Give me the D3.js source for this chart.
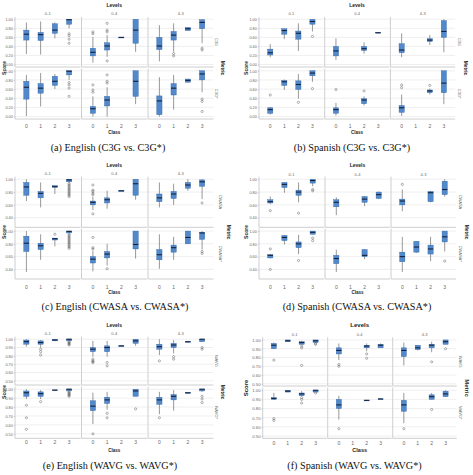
<!DOCTYPE html>
<html><head><meta charset="utf-8">
<script src="https://cdn.jsdelivr.net/npm/d3@7"></script>
<style>body{margin:0;background:#fff}svg{display:block}</style>
</head><body><svg id="c" width="473" height="475"></svg>
<script>
// ---------- data ----------
const levels = ["0-1", "0-4", "4-3"];
const classes = ["0", "1", "2", "3"];
const metricsA = ["C3G", "C3G*"];
const metricsC = ["CWASA", "CWASA*"];
const metricsE = ["WAVG", "WAVG*"];
const ticksAB = [0, 0.2, 0.4, 0.6, 0.8, 1.0];
const ticksCD = [0.4, 0.6, 0.8, 1.0];
const ticksEF = [0.5, 0.6, 0.7, 0.8, 0.9, 1.0];
const captions = ["(a) English (C3G vs. C3G*)", "(b) Spanish (C3G vs. C3G*)",
  "(c) English (CWASA vs. CWASA*)", "(d) Spanish (CWASA vs. CWASA*)",
  "(e) English (WAVG vs. WAVG*)", "(f) Spanish (WAVG vs. WAVG*)"];

// rows: [metric, level, class, whiskerLow, q1, median, q3, whiskerHigh, outliers]
const boxesA = [
  [0,0,0,.23,.54,.67,.76,.93,[]],
  [0,0,1,.22,.53,.66,.71,.95,[]],
  [0,0,2,.58,.69,.76,.90,.93,[]],
  [0,0,3,.80,.89,.99,1.0,1.0,[.68,.64,.56,.47]],
  [0,1,0,.04,.19,.27,.36,.61,[.72,.68]],
  [0,1,1,.17,.32,.41,.48,.65,[.91,.76,.72,.08]],
  [0,1,2,.60,.60,.60,.60,.60,[]],
  [0,1,3,.28,.47,.76,1.0,1.0,[]],
  [0,2,0,.07,.33,.41,.60,.87,[]],
  [0,2,1,.28,.54,.65,.73,.91,[.24,.19]],
  [0,2,2,.75,.75,.79,.82,.82,[]],
  [0,2,3,.47,.79,.93,.99,1.0,[.36,.32]],
  [1,0,0,.01,.38,.64,.77,.91,[]],
  [1,0,1,.22,.51,.62,.72,.95,[]],
  [1,0,2,.60,.68,.77,.88,.93,[]],
  [1,0,3,.80,.91,.99,1.0,1.0,[.74,.69,.62,.44]],
  [1,1,0,.00,.07,.17,.22,.44,[.69,.58,.53]],
  [1,1,1,.00,.23,.36,.44,.64,[.91,.77,.73]],
  [1,1,3,.27,.44,.77,1.0,1.0,[]],
  [1,2,0,.00,.04,.34,.45,.86,[]],
  [1,2,1,.15,.47,.62,.72,.91,[]],
  [1,2,2,.75,.75,.79,.82,.82,[]],
  [1,2,3,.53,.80,.93,1.0,1.0,[.38,.33,.11]]
];
const boxesB = [
  [0,0,0,.16,.21,.26,.34,.45,[]],
  [0,0,1,.56,.67,.75,.79,.80,[]],
  [0,0,2,.30,.56,.69,.74,.91,[]],
  [0,0,3,.73,.89,.95,1.0,1.0,[.62]],
  [0,1,0,.10,.19,.30,.40,.58,[]],
  [0,1,2,.24,.31,.35,.40,.49,[]],
  [0,1,3,.70,.70,.70,.71,.71,[]],
  [0,2,0,.16,.26,.32,.46,.69,[]],
  [0,2,2,.43,.51,.54,.57,.65,[]],
  [0,2,3,.27,.60,.73,.97,1.0,[]],
  [1,0,0,.04,.07,.15,.19,.21,[.47]],
  [1,0,1,.58,.68,.76,.79,.81,[]],
  [1,0,2,.39,.59,.70,.78,.93,[.31]],
  [1,0,3,.76,.89,.95,1.0,1.0,[.61]],
  [1,1,0,.02,.07,.15,.19,.30,[.59]],
  [1,1,2,.24,.28,.36,.39,.44,[.56]],
  [1,2,0,.01,.09,.19,.24,.48,[.69,.63]],
  [1,2,2,.48,.52,.56,.58,.61,[.68]],
  [1,2,3,.27,.52,.73,1.0,1.0,[]]
];
const boxesC = [
  [0,0,0,.66,.75,.88,.95,1.0,[]],
  [0,0,1,.56,.71,.78,.81,.95,[]],
  [0,0,2,.77,.875,.885,.90,.90,[]],
  [0,0,3,.94,.96,.99,1.0,1.0,[.93,.91,.89,.87,.85,.83,.81,.79,.77,.75,.73]],
  [0,1,0,.52,.60,.64,.66,.73,[.91,.83,.81,.78,.76,.46]],
  [0,1,1,.54,.63,.68,.71,.82,[]],
  [0,1,2,.82,.82,.82,.82,.82,[]],
  [0,1,3,.68,.75,.93,1.0,1.0,[]],
  [0,2,0,.56,.65,.71,.77,.95,[]],
  [0,2,1,.60,.70,.77,.81,.93,[]],
  [0,2,2,.82,.86,.91,.95,1.0,[]],
  [0,2,3,.69,.89,.96,.99,1.0,[.63]],
  [1,0,0,.36,.68,.81,.92,1.0,[]],
  [1,0,1,.55,.71,.77,.81,.95,[]],
  [1,0,2,.76,.86,.88,.89,.89,[.95]],
  [1,0,3,.97,.97,.995,1.0,1.0,[.95,.93,.91,.89,.87,.85,.83,.81,.79,.77,.75,.73]],
  [1,1,0,.37,.50,.56,.60,.69,[.90,.74,.72]],
  [1,1,1,.46,.58,.64,.68,.80,[.41]],
  [1,1,3,.57,.72,.79,1.0,1.0,[]],
  [1,2,0,.41,.55,.63,.71,.95,[]],
  [1,2,1,.55,.67,.74,.78,.91,[]],
  [1,2,2,.80,.80,.90,1.0,1.0,[]],
  [1,2,3,.71,.87,.97,.98,1.0,[.68,.65]]
];
const boxesD = [
  [0,0,0,.61,.63,.65,.68,.73,[.51]],
  [0,0,1,.79,.87,.92,.95,.95,[]],
  [0,0,2,.64,.75,.80,.83,.95,[.47]],
  [0,0,3,.89,.94,.98,1.0,1.0,[.84,.82]],
  [0,1,0,.44,.57,.64,.68,.72,[]],
  [0,1,2,.58,.64,.69,.73,.74,[]],
  [0,1,3,.69,.70,.76,.80,.81,[]],
  [0,2,0,.50,.60,.66,.69,.84,[.92]],
  [0,2,2,.64,.65,.79,.81,.82,[]],
  [0,2,3,.73,.76,.84,.97,1.0,[]],
  [1,0,0,.57,.58,.62,.63,.64,[.72,.40]],
  [1,0,1,.79,.85,.90,.93,.94,[]],
  [1,0,2,.64,.74,.80,.83,.94,[.54]],
  [1,0,3,.95,.95,.98,1.0,1.0,[.89,.85]],
  [1,1,0,.36,.49,.57,.62,.71,[]],
  [1,1,2,.56,.60,.62,.71,.72,[]],
  [1,2,0,.36,.52,.60,.67,.91,[]],
  [1,2,1,.66,.67,.75,.84,.84,[]],
  [1,2,2,.53,.64,.72,.78,.91,[]],
  [1,2,3,.68,.83,.91,1.0,1.0,[.53]]
];
const boxesE = [
  [0,0,0,.91,.94,.97,.99,1.0,[]],
  [0,0,1,.90,.94,.96,.98,.99,[.88,.85,.81]],
  [0,0,2,.98,.98,.99,1.0,1.0,[]],
  [0,0,3,.98,.98,1.0,1.0,1.0,[.97,.96,.95,.94,.93]],
  [0,1,0,.79,.85,.88,.90,.98,[.76,.74,.73,.72]],
  [0,1,1,.79,.85,.90,.92,.98,[.72,.68]],
  [0,1,2,.92,.92,.92,.92,.92,[]],
  [0,1,3,.92,.95,.98,1.0,1.0,[]],
  [0,2,0,.81,.88,.91,.94,1.0,[.74]],
  [0,2,1,.83,.90,.93,.95,.99,[.79,.76]],
  [0,2,2,.97,.97,.97,.97,.97,[]],
  [0,2,3,.97,.97,1.0,1.0,1.0,[.90,.88]],
  [1,0,0,.89,.92,.96,.98,1.0,[.82,.68,.55]],
  [1,0,1,.89,.92,.95,.97,.99,[.86]],
  [1,0,2,.99,.99,.99,.99,.99,[]],
  [1,0,3,.98,.98,1.0,1.0,1.0,[.97,.96,.95,.94,.93,.92]],
  [1,1,0,.61,.76,.81,.87,.96,[.50]],
  [1,1,1,.77,.84,.88,.91,.97,[.73,.68]],
  [1,1,3,.92,.92,.98,1.0,1.0,[.78]],
  [1,2,0,.72,.83,.88,.91,.97,[.68]],
  [1,2,1,.76,.88,.92,.94,.99,[]],
  [1,2,2,.96,.96,.96,.96,.96,[]],
  [1,2,3,.97,.98,1.0,1.0,1.0,[.92,.89,.85]]
];
const boxesF = [
  [0,0,0,.90,.90,.94,.96,.97,[.77]],
  [0,0,1,.98,.98,.99,1.0,1.0,[]],
  [0,0,2,.95,.95,.97,.98,.99,[.93,.91,.71]],
  [0,0,3,.97,.97,.99,1.0,1.0,[.96,.95]],
  [0,1,0,.77,.84,.88,.91,.96,[.72,.70]],
  [0,1,2,.87,.91,.93,.94,.96,[.84,.79]],
  [0,1,3,.91,.91,.94,.95,.96,[]],
  [0,2,0,.71,.81,.88,.91,.97,[]],
  [0,2,1,.88,.89,.91,.94,.94,[]],
  [0,2,2,.86,.91,.94,.95,.98,[.75]],
  [0,2,3,.95,.95,.98,1.0,1.0,[.90]],
  [1,0,0,.90,.90,.91,.92,.97,[.69,.67]],
  [1,0,1,.98,.98,.99,1.0,1.0,[]],
  [1,0,2,.94,.94,.96,.97,.99,[.92,.90,.86]],
  [1,0,3,.98,.98,1.0,1.0,1.0,[.97]],
  [1,1,0,.68,.80,.84,.90,.94,[.58]],
  [1,1,2,.89,.89,.89,.89,.89,[]],
  [1,1,3,.905,.905,.905,.905,.905,[]],
  [1,2,0,.64,.77,.84,.89,.97,[.58]],
  [1,2,2,.90,.90,.93,.95,.97,[.79]],
  [1,2,3,.93,.93,.96,.99,1.0,[]]
];

// ---------- layout (positions & styles) ----------
const layouts = [
  {x0:15, pw:65.5, gap:1, rows:[[17,67],[68.5,119]], dom:[-0.055,1.05], levY:5, stripY:13, tickY:126, titleY:132,
   scoreX:4, scoreY:68, rsX:216, metX:223, capX:108, capY:151, big:false},
  {x0:259, pw:64.7, gap:1, rows:[[17,67],[68.5,119]], dom:[-0.055,1.05], levY:5, stripY:13, tickY:126, titleY:132,
   scoreX:246, scoreY:68, rsX:459.5, metX:466, capX:352, capY:151, big:false},
  {x0:15, pw:65.5, gap:1, rows:[[176.7,227.3],[228.5,279]], dom:[0.25,1.04], levY:165, stripY:173, tickY:286.7, titleY:292,
   scoreX:4, scoreY:232, rsX:220, metX:229, capX:115, capY:310, big:false},
  {x0:259, pw:65, gap:1, rows:[[176.7,227.3],[228.5,279]], dom:[0.25,1.04], levY:165, stripY:174, tickY:286.7, titleY:292,
   scoreX:246, scoreY:232, rsX:460, metX:467, capX:357, capY:310, big:false},
  {x0:15, pw:65.5, gap:1, rows:[[336.7,385],[386.5,438.3]], dom:[0.45,1.03], levY:325, stripY:333.3, tickY:441.7, titleY:450.7,
   scoreX:4, scoreY:392, rsX:216.7, metX:223, capX:110, capY:468.5, big:false},
  {x0:262.7, pw:64, gap:1, rows:[[337.3,386],[387.5,438.3]], dom:[0.475,1.03], levY:325, stripY:334, tickY:442.7, titleY:450,
   scoreX:246, scoreY:388, rsX:460, metX:466.7, capX:354.5, capY:468.5, big:true}
];

const BOX_FILL = "#5189cb", BOX_STROKE = "#3566a6", MED = "#14213d", WHISK = "#333", GRID = "#e4e4e4", AXIS = "#c2c2c2";

const svg = d3.select("#c");
svg.append("rect").attr("width", 473).attr("height", 475).attr("fill", "#fff");

function drawSub(L, metrics, boxes, ticks, caption) {
  const g = svg.append("g");
  const fmt = d3.format(".2f");
  const tickFs = L.big ? 4.2 : 3.8;
  const titleFs = L.big ? 6 : 5;
  const xRight = L.x0 + 3 * L.pw + 2 * L.gap;
  for (let r = 0; r < 2; r++) {
    const [top, bot] = L.rows[r];
    const y = d3.scaleLinear().domain(L.dom).range([bot, top]);
    for (let l = 0; l < 3; l++) {
      const px = L.x0 + l * (L.pw + L.gap);
      const x = d3.scalePoint().domain(classes).range([px, px + L.pw]).padding(0.8);
      const pg = g.append("g");
      pg.selectAll("line.grid").data(ticks).join("line")
        .attr("x1", px).attr("x2", px + L.pw)
        .attr("y1", d => y(d)).attr("y2", d => y(d))
        .attr("stroke", GRID).attr("stroke-width", 0.6);
      pg.append("line").attr("x1", px).attr("x2", px).attr("y1", top).attr("y2", bot)
        .attr("stroke", AXIS).attr("stroke-width", 0.8);
      pg.append("line").attr("x1", px).attr("x2", px + L.pw).attr("y1", bot).attr("y2", bot)
        .attr("stroke", AXIS).attr("stroke-width", 0.8);
      if (l === 0) {
        const ax = d3.axisLeft(y).tickValues(ticks).tickFormat(fmt).tickSize(1.2).tickPadding(1);
        const ag = pg.append("g").attr("transform", `translate(${px},0)`).call(ax);
        ag.select(".domain").remove();
        ag.selectAll("line").attr("stroke", "#999").attr("stroke-width", 0.4);
        ag.selectAll("text").attr("font-size", tickFs).attr("fill", "#666").attr("font-family", "Liberation Sans, Arial, sans-serif");
      }
      if (r === 1) {
        pg.selectAll("text.xt").data(classes).join("text")
          .attr("x", d => x(d)).attr("y", L.tickY).attr("text-anchor", "middle").attr("dominant-baseline", "central")
          .attr("font-size", 5).attr("fill", "#666").attr("font-family", "Liberation Sans, Arial, sans-serif")
          .text(d => d);
      }
      if (r === 0) {
        pg.append("text").attr("x", px + L.pw / 2).attr("y", L.stripY).attr("text-anchor", "middle")
          .attr("dominant-baseline", "central").attr("font-size", 4).attr("fill", "#666")
          .attr("font-family", "Liberation Sans, Arial, sans-serif").text(levels[l]);
      }
      const bw = x.step() * 0.37;
      const data = boxes.filter(b => b[0] === r && b[1] === l);
      data.forEach(b => {
        const cx = x(classes[b[2]]);
        const bgp = pg.append("g");
        bgp.append("line").attr("x1", cx).attr("x2", cx).attr("y1", y(b[3])).attr("y2", y(b[7]))
          .attr("stroke", WHISK).attr("stroke-width", 0.5);
        bgp.append("rect").attr("x", cx - bw / 2).attr("width", bw)
          .attr("y", y(b[6])).attr("height", Math.max(0.6, y(b[4]) - y(b[6])))
          .attr("fill", BOX_FILL).attr("stroke", BOX_STROKE).attr("stroke-width", 0.4);
        bgp.append("line").attr("x1", cx - bw / 2).attr("x2", cx + bw / 2).attr("y1", y(b[5])).attr("y2", y(b[5]))
          .attr("stroke", MED).attr("stroke-width", 1.1);
        bgp.selectAll("circle").data(b[8]).join("circle")
          .attr("cx", cx).attr("cy", d => y(d)).attr("r", 1.1)
          .attr("fill", "none").attr("stroke", "#555").attr("stroke-width", 0.45);
      });
      if (l === 2) {
        const cy = (top + bot) / 2;
        pg.append("text").attr("transform", `translate(${L.rsX},${cy}) rotate(90)`)
          .attr("text-anchor", "middle").attr("dominant-baseline", "central")
          .attr("font-size", 4).attr("fill", "#666").attr("font-family", "Liberation Sans, Arial, sans-serif")
          .text(metrics[r]);
      }
    }
  }
  const cxMid = (L.x0 + xRight) / 2;
  const tf = "Liberation Sans, Arial, sans-serif";
  g.append("text").attr("x", cxMid).attr("y", L.levY).attr("text-anchor", "middle").attr("dominant-baseline", "central")
    .attr("font-size", titleFs).attr("font-weight", "bold").attr("fill", "#222").attr("font-family", tf).text("Levels");
  g.append("text").attr("x", cxMid).attr("y", L.titleY).attr("text-anchor", "middle").attr("dominant-baseline", "central")
    .attr("font-size", titleFs - 0.5).attr("font-weight", "bold").attr("fill", "#222").attr("font-family", tf).text("Class");
  g.append("text").attr("transform", `translate(${L.scoreX},${L.scoreY}) rotate(-90)`).attr("text-anchor", "middle")
    .attr("dominant-baseline", "central").attr("font-size", titleFs).attr("font-weight", "bold").attr("fill", "#222")
    .attr("font-family", tf).text("Score");
  g.append("text").attr("transform", `translate(${L.metX},${L.scoreY}) rotate(90)`).attr("text-anchor", "middle")
    .attr("dominant-baseline", "central").attr("font-size", titleFs).attr("font-weight", "bold").attr("fill", "#222")
    .attr("font-family", tf).text("Metric");
  g.append("text").attr("x", L.capX).attr("y", L.capY).attr("text-anchor", "middle")
    .attr("font-size", 10.2).attr("fill", "#111").attr("font-family", "Liberation Serif, Times New Roman, serif")
    .text(caption);
}

drawSub(layouts[0], metricsA, boxesA, ticksAB, captions[0]);
drawSub(layouts[1], metricsA, boxesB, ticksAB, captions[1]);
drawSub(layouts[2], metricsC, boxesC, ticksCD, captions[2]);
drawSub(layouts[3], metricsC, boxesD, ticksCD, captions[3]);
drawSub(layouts[4], metricsE, boxesE, ticksEF, captions[4]);
drawSub(layouts[5], metricsE, boxesF, ticksEF, captions[5]);
</script></body></html>
